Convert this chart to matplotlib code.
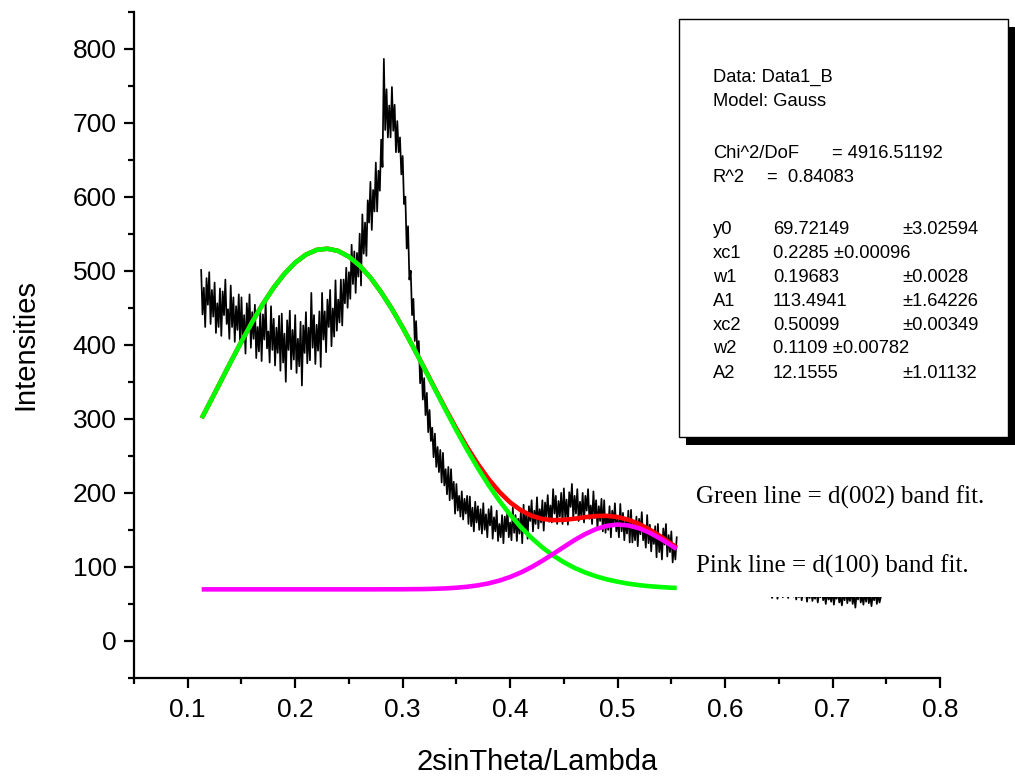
import numpy as np
import matplotlib
matplotlib.use('Agg')
import matplotlib.pyplot as plt
from matplotlib.patches import Rectangle
from matplotlib.ticker import MultipleLocator

plt.rcParams['font.family'] = ['Liberation Sans', 'DejaVu Sans']

###################################################################
## data

## measured pattern, left part (x step 0.00125 from 0.1125 to 0.555)
x_meas_left = np.linspace(0.1125, 0.555, 355)
y_meas_left = [
    501, 441, 477, 424, 490, 454, 498, 428, 474, 438,
    484, 416, 456, 424, 476, 412, 472, 440, 488, 428,
    448, 408, 480, 424, 464, 404, 452, 420, 468, 400,
    464, 404, 440, 388, 456, 420, 468, 396, 444, 408,
    454, 382, 424, 391, 445, 378, 441, 407, 458, 395,
    418, 376, 452, 393, 435, 372, 423, 389, 439, 365,
    442, 376, 415, 350, 433, 393, 446, 367, 420, 380,
    440, 362, 408, 371, 431, 345, 426, 389, 444, 375,
    423, 379, 470, 396, 440, 374, 427, 392, 445, 370,
    470, 407, 445, 390, 461, 424, 474, 398, 449, 411,
    487, 419, 461, 430, 488, 426, 488, 456, 504, 450,
    498, 462, 535, 482, 526, 470, 524, 492, 550, 480,
    576, 523, 565, 520, 595, 565, 620, 555, 609, 580,
    646, 580, 635, 608, 677, 640, 786, 690, 745, 680,
    723, 680, 748, 689, 724, 660, 702, 660, 680, 630,
    655, 590, 600, 530, 560, 488, 500, 440, 462, 405,
    432, 385, 405, 348, 378, 326, 355, 305, 335, 282,
    312, 270, 288, 248, 280, 235, 262, 228, 258, 214,
    254, 210, 232, 198, 235, 190, 232, 192, 215, 172,
    212, 176, 196, 168, 202, 164, 192, 172, 196, 158,
    195, 155, 180, 148, 188, 160, 182, 150, 178, 145,
    186, 150, 171, 140, 178, 156, 182, 138, 167, 148,
    176, 135, 158, 140, 170, 132, 168, 148, 178, 140,
    160, 136, 180, 146, 170, 135, 165, 145, 175, 132,
    184, 148, 172, 138, 182, 162, 190, 148, 176, 158,
    194, 152, 178, 160, 190, 149, 187, 168, 197, 161,
    183, 160, 205, 172, 196, 158, 189, 168, 200, 158,
    206, 167, 191, 157, 201, 181, 212, 165, 196, 172,
    205, 162, 188, 167, 200, 160, 196, 176, 205, 165,
    183, 158, 202, 166, 190, 152, 182, 162, 192, 148,
    190, 146, 170, 150, 182, 140, 176, 156, 186, 148,
    164, 140, 185, 148, 173, 136, 165, 145, 176, 133,
    177, 133, 158, 136, 168, 128, 165, 144, 174, 136,
    151, 126, 170, 132, 157, 121, 150, 131, 155, 113,
    158, 120, 142, 110, 152, 130, 158, 114, 143, 120,
    148, 106, 131, 110, 140,
]

## measured pattern, right part (x step 0.00125 from 0.6425 to 0.745)
x_meas_right = np.linspace(0.6425, 0.745, 83)
y_meas_right = [
    72, 58, 66, 61, 75, 57, 68, 63, 70, 59,
    74, 62, 66, 58, 70, 64, 77, 60, 67, 56,
    68, 59, 72, 55, 64, 60, 70, 53, 66, 58,
    71, 54, 63, 57, 69, 52, 65, 59, 72, 55,
    64, 50, 68, 56, 61, 53, 70, 49, 63, 57,
    67, 52, 60, 48, 66, 55, 71, 51, 62, 54,
    68, 50, 63, 45, 65, 56, 70, 52, 61, 49,
    66, 53, 69, 51, 62, 47, 64, 55, 68, 50,
    63, 52, 60,
]

## fitted curves (Gauss fit, read every 0.01)
x_fit = [0.113, 0.12, 0.13, 0.14, 0.15, 0.16, 0.17, 0.18, 0.19, 0.20, 0.21, 0.22,
         0.23, 0.24, 0.25, 0.26, 0.27, 0.28, 0.29, 0.30, 0.31, 0.32, 0.33, 0.34,
         0.35, 0.36, 0.37, 0.38, 0.39, 0.40, 0.41, 0.42, 0.43, 0.44, 0.45, 0.46,
         0.47, 0.48, 0.49, 0.50, 0.51, 0.52, 0.53, 0.54, 0.55, 0.555]
y_green = [300.8, 320.3, 348.5, 376.8, 404.4, 430.8, 455.3, 477.2, 495.9, 510.9, 521.7, 528.1,
           529.7, 526.7, 518.9, 506.8, 490.7, 470.9, 448.2, 423.1, 396.2, 368.4, 340.0, 311.9,
           284.4, 258.1, 233.4, 210.4, 189.4, 170.5, 153.7, 139.0, 126.3, 115.4, 106.3, 98.6,
           92.4, 87.3, 83.2, 80.0, 77.4, 75.4, 73.9, 72.8, 71.9, 71.6]
y_pink = [69.7, 69.7, 69.7, 69.7, 69.7, 69.7, 69.7, 69.7, 69.7, 69.7, 69.7, 69.7,
          69.7, 69.7, 69.7, 69.7, 69.7, 69.75, 69.8, 69.8, 69.95, 70.1, 70.5, 71.0,
          71.9, 73.2, 75.1, 77.8, 81.5, 86.4, 92.5, 99.8, 108.3, 117.5, 127.0, 136.3,
          144.5, 151.1, 155.5, 157.2, 156.0, 152.2, 146.0, 138.0, 128.9, 124.2]
y_red = [300.8, 320.3, 348.5, 376.8, 404.4, 430.8, 455.3, 477.2, 495.9, 510.9, 521.7, 528.1,
         529.7, 526.7, 518.9, 506.8, 490.7, 470.9, 448.3, 423.2, 396.4, 368.8, 340.8, 313.2,
         286.6, 261.6, 238.8, 218.5, 201.2, 187.1, 176.5, 169.1, 164.8, 163.2, 163.6, 165.1,
         167.2, 168.7, 169.0, 167.4, 163.7, 157.9, 150.2, 141.1, 131.1, 126.0]

## fit report
fit_header = ['Data: Data1_B', 'Model: Gauss']
fit_names = ['y0', 'xc1', 'w1', 'A1', 'xc2', 'w2', 'A2']
fit_values = ['69.72149', '0.2285 \u00b10.00096', '0.19683', '113.4941',
              '0.50099', '0.1109 \u00b10.00782', '12.1555']
fit_errors = ['\u00b13.02594', '', '\u00b10.0028', '\u00b11.64226', '\u00b10.00349', '', '\u00b11.01132']

notes = ['Green line = d(002) band fit.', 'Pink line = d(100) band fit.']

###################################################################
## plotting
W, H = 1015, 778
fig = plt.figure(figsize=(W / 100, H / 100), dpi=100)
ax = fig.add_axes([134 / W, 1 - 678 / H, 806 / W, 666.5 / H])

ax.plot(x_meas_left, y_meas_left, color='black', lw=1.25, zorder=2)
ax.plot(x_meas_right, y_meas_right, color='black', lw=1.25, zorder=2)
ax.plot(x_fit, y_red, color='#ff0000', lw=3.3, zorder=3, solid_capstyle='butt')
ax.plot(x_fit, y_green, color='#00ff00', lw=3.3, zorder=4, solid_capstyle='butt')
ax.plot(x_fit, y_pink, color='#ff00ff', lw=3.3, zorder=5, solid_capstyle='butt')

ax.set_xlim(0.05, 0.8)
ax.set_ylim(-50, 850)
ax.xaxis.set_minor_locator(MultipleLocator(0.05))
ax.yaxis.set_minor_locator(MultipleLocator(50))
ax.set_xticks([0.1, 0.2, 0.3, 0.4, 0.5, 0.6, 0.7, 0.8])
ax.set_xticklabels(['0.1', '0.2', '0.3', '0.4', '0.5', '0.6', '0.7', '0.8'])
ax.set_yticks([0, 100, 200, 300, 400, 500, 600, 700, 800])

for s in ['top', 'right']:
    ax.spines[s].set_visible(False)
for s in ['left', 'bottom']:
    ax.spines[s].set_linewidth(1.6)
ax.tick_params(which='major', direction='out', length=7.5, width=1.6, labelsize=19, pad=7)
ax.tick_params(which='minor', direction='out', length=4.5, width=1.6)
ax.tick_params(axis='y', which='major', pad=5)

ax.set_xlabel('2sinTheta/Lambda', fontsize=21)
ax.set_ylabel('Intensities', fontsize=21)
ax.xaxis.set_label_coords(0.5, -0.105)
ax.yaxis.set_label_coords(-0.118, 0.5)

## white area behind the notes (hides part of the data)
fig.patches.append(Rectangle((678 / W, 1 - 597 / H), 330 / W, 140 / H,
                             transform=fig.transFigure, facecolor='white',
                             edgecolor='none', zorder=6))
## fit report box with shadow
fig.patches.append(Rectangle((686 / W, 1 - 445 / H), 329 / W, 418 / H,
                             transform=fig.transFigure, facecolor='black',
                             edgecolor='none', zorder=7))
fig.patches.append(Rectangle((679 / W, 1 - 437 / H), 329 / W, 418 / H,
                             transform=fig.transFigure, facecolor='white',
                             edgecolor='black', lw=1.0, zorder=8))

fs = 13.2
def report(xpx, ypx, s):
    fig.text(xpx / W, 1 - ypx / H, s, fontsize=fs, ha='left', va='center', zorder=9)

report(713, 77, fit_header[0])
report(713, 101, fit_header[1])
report(713, 153, 'Chi^2/DoF')
report(832, 153, '= 4916.51192')
report(713, 177, 'R^2')
report(767, 177, '=  0.84083')
for i in range(len(fit_names)):
    yy = 229 + 24 * i
    report(713, yy, fit_names[i])
    report(773, yy, fit_values[i])
    if fit_errors[i]:
        report(902, yy, fit_errors[i])

fig.text(696 / W, 1 - 504 / H, notes[0], fontsize=18, family='Liberation Serif',
         ha='left', va='baseline', zorder=9)
fig.text(696 / W, 1 - 572.5 / H, notes[1], fontsize=18, family='Liberation Serif',
         ha='left', va='baseline', zorder=9)

plt.savefig('out.png', dpi=100)
